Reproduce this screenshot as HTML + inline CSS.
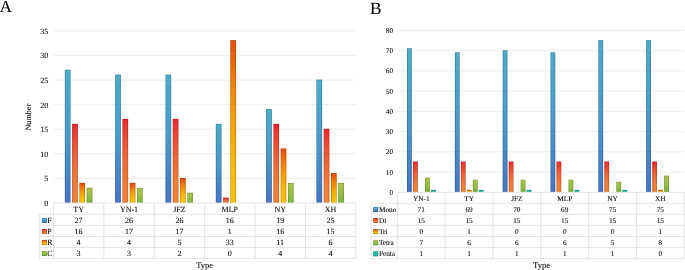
<!DOCTYPE html>
<html><head><meta charset="utf-8"><title>Figure</title>
<style>html,body{margin:0;padding:0;background:#fff}body{width:685px;height:270px;overflow:hidden}</style>
</head><body>
<svg width="685" height="270" viewBox="0 0 685 270" style="display:block">
<defs>
<linearGradient id="gF" x1="0" y1="0" x2="0" y2="1"><stop offset="0" stop-color="#4BADCA"/><stop offset="0.5" stop-color="#499AC9"/><stop offset="1" stop-color="#4474C6"/></linearGradient>
<linearGradient id="sF" x1="0" y1="0" x2="0" y2="1"><stop offset="0" stop-color="#39839A"/><stop offset="0.5" stop-color="#377599"/><stop offset="1" stop-color="#345896"/></linearGradient>
<linearGradient id="gP" x1="0" y1="0" x2="0" y2="1"><stop offset="0" stop-color="#EB2A30"/><stop offset="0.25" stop-color="#ED4F33"/><stop offset="0.5" stop-color="#EF6935"/><stop offset="0.75" stop-color="#F07C37"/><stop offset="1" stop-color="#F08237"/></linearGradient>
<linearGradient id="sP" x1="0" y1="0" x2="0" y2="1"><stop offset="0" stop-color="#B32024"/><stop offset="0.25" stop-color="#B43C27"/><stop offset="0.5" stop-color="#B65028"/><stop offset="0.75" stop-color="#B65E2A"/><stop offset="1" stop-color="#B6632A"/></linearGradient>
<linearGradient id="gR" x1="0" y1="0" x2="0" y2="1"><stop offset="0" stop-color="#E84E08"/><stop offset="0.25" stop-color="#F07E05"/><stop offset="0.5" stop-color="#F6A002"/><stop offset="0.75" stop-color="#FAB801"/><stop offset="1" stop-color="#FBC000"/></linearGradient>
<linearGradient id="sR" x1="0" y1="0" x2="0" y2="1"><stop offset="0" stop-color="#B03B06"/><stop offset="0.25" stop-color="#B66004"/><stop offset="0.5" stop-color="#BB7A02"/><stop offset="0.75" stop-color="#BE8C01"/><stop offset="1" stop-color="#BF9200"/></linearGradient>
<linearGradient id="gC" x1="0" y1="0" x2="0" y2="1"><stop offset="0" stop-color="#ACC548"/><stop offset="0.5" stop-color="#98BF43"/><stop offset="1" stop-color="#7AB63C"/></linearGradient>
<linearGradient id="sC" x1="0" y1="0" x2="0" y2="1"><stop offset="0" stop-color="#839637"/><stop offset="0.5" stop-color="#749133"/><stop offset="1" stop-color="#5D8A2E"/></linearGradient>
<linearGradient id="gE" x1="0" y1="0" x2="0" y2="1"><stop offset="0" stop-color="#1EBEA0"/><stop offset="0.5" stop-color="#23BCA5"/><stop offset="1" stop-color="#28B9AA"/></linearGradient>
<linearGradient id="sE" x1="0" y1="0" x2="0" y2="1"><stop offset="0" stop-color="#17907A"/><stop offset="0.5" stop-color="#1B8F7D"/><stop offset="1" stop-color="#1E8D81"/></linearGradient>
<filter id="bl" x="0" y="0" width="685" height="270" filterUnits="userSpaceOnUse"><feGaussianBlur stdDeviation="0.35"/></filter>
<filter id="bt" x="0" y="0" width="685" height="270" filterUnits="userSpaceOnUse"><feGaussianBlur stdDeviation="0.25"/></filter>
</defs>
<rect width="685" height="270" fill="#fff"/>
<g filter="url(#bl)">
<line x1="53.90" y1="178.40" x2="355.80" y2="178.40" stroke="#EAEAEA" stroke-width="0.8"/>
<line x1="53.90" y1="153.80" x2="355.80" y2="153.80" stroke="#EAEAEA" stroke-width="0.8"/>
<line x1="53.90" y1="129.20" x2="355.80" y2="129.20" stroke="#EAEAEA" stroke-width="0.8"/>
<line x1="53.90" y1="104.60" x2="355.80" y2="104.60" stroke="#EAEAEA" stroke-width="0.8"/>
<line x1="53.90" y1="80.00" x2="355.80" y2="80.00" stroke="#EAEAEA" stroke-width="0.8"/>
<line x1="53.90" y1="55.40" x2="355.80" y2="55.40" stroke="#EAEAEA" stroke-width="0.8"/>
<line x1="53.90" y1="30.80" x2="355.80" y2="30.80" stroke="#EAEAEA" stroke-width="0.8"/>
<rect x="64.84" y="69.71" width="5.70" height="133.14" fill="url(#sF)"/>
<rect x="65.55" y="70.41" width="4.30" height="132.44" fill="url(#gF)"/>
<rect x="72.11" y="123.83" width="5.70" height="79.02" fill="url(#sP)"/>
<rect x="72.81" y="124.53" width="4.30" height="78.32" fill="url(#gP)"/>
<rect x="79.38" y="182.87" width="5.70" height="19.98" fill="url(#sR)"/>
<rect x="80.08" y="183.57" width="4.30" height="19.28" fill="url(#gR)"/>
<rect x="86.66" y="187.79" width="5.70" height="15.06" fill="url(#sC)"/>
<rect x="87.36" y="188.49" width="4.30" height="14.36" fill="url(#gC)"/>
<rect x="115.16" y="74.63" width="5.70" height="128.22" fill="url(#sF)"/>
<rect x="115.86" y="75.33" width="4.30" height="127.52" fill="url(#gF)"/>
<rect x="122.43" y="118.91" width="5.70" height="83.94" fill="url(#sP)"/>
<rect x="123.13" y="119.61" width="4.30" height="83.24" fill="url(#gP)"/>
<rect x="129.70" y="182.87" width="5.70" height="19.98" fill="url(#sR)"/>
<rect x="130.40" y="183.57" width="4.30" height="19.28" fill="url(#gR)"/>
<rect x="136.97" y="187.79" width="5.70" height="15.06" fill="url(#sC)"/>
<rect x="137.67" y="188.49" width="4.30" height="14.36" fill="url(#gC)"/>
<rect x="165.48" y="74.63" width="5.70" height="128.22" fill="url(#sF)"/>
<rect x="166.18" y="75.33" width="4.30" height="127.52" fill="url(#gF)"/>
<rect x="172.75" y="118.91" width="5.70" height="83.94" fill="url(#sP)"/>
<rect x="173.45" y="119.61" width="4.30" height="83.24" fill="url(#gP)"/>
<rect x="180.02" y="177.95" width="5.70" height="24.90" fill="url(#sR)"/>
<rect x="180.72" y="178.65" width="4.30" height="24.20" fill="url(#gR)"/>
<rect x="187.29" y="192.71" width="5.70" height="10.14" fill="url(#sC)"/>
<rect x="187.99" y="193.41" width="4.30" height="9.44" fill="url(#gC)"/>
<rect x="215.81" y="123.83" width="5.70" height="79.02" fill="url(#sF)"/>
<rect x="216.50" y="124.53" width="4.30" height="78.32" fill="url(#gF)"/>
<rect x="223.08" y="197.63" width="5.70" height="5.22" fill="url(#sP)"/>
<rect x="223.78" y="198.33" width="4.30" height="4.52" fill="url(#gP)"/>
<rect x="230.34" y="40.19" width="5.70" height="162.66" fill="url(#sR)"/>
<rect x="231.04" y="40.89" width="4.30" height="161.96" fill="url(#gR)"/>
<rect x="266.12" y="109.07" width="5.70" height="93.78" fill="url(#sF)"/>
<rect x="266.82" y="109.77" width="4.30" height="93.08" fill="url(#gF)"/>
<rect x="273.39" y="123.83" width="5.70" height="79.02" fill="url(#sP)"/>
<rect x="274.09" y="124.53" width="4.30" height="78.32" fill="url(#gP)"/>
<rect x="280.67" y="148.43" width="5.70" height="54.42" fill="url(#sR)"/>
<rect x="281.37" y="149.13" width="4.30" height="53.72" fill="url(#gR)"/>
<rect x="287.94" y="182.87" width="5.70" height="19.98" fill="url(#sC)"/>
<rect x="288.63" y="183.57" width="4.30" height="19.28" fill="url(#gC)"/>
<rect x="316.44" y="79.55" width="5.70" height="123.30" fill="url(#sF)"/>
<rect x="317.14" y="80.25" width="4.30" height="122.60" fill="url(#gF)"/>
<rect x="323.71" y="128.75" width="5.70" height="74.10" fill="url(#sP)"/>
<rect x="324.41" y="129.45" width="4.30" height="73.40" fill="url(#gP)"/>
<rect x="330.99" y="173.03" width="5.70" height="29.82" fill="url(#sR)"/>
<rect x="331.69" y="173.73" width="4.30" height="29.12" fill="url(#gR)"/>
<rect x="338.25" y="182.87" width="5.70" height="19.98" fill="url(#sC)"/>
<rect x="338.95" y="183.57" width="4.30" height="19.28" fill="url(#gC)"/>
<line x1="53.40" y1="203.00" x2="355.80" y2="203.00" stroke="#E1E1E1" stroke-width="0.9"/>
<line x1="39.60" y1="214.30" x2="355.80" y2="214.30" stroke="#E1E1E1" stroke-width="0.9"/>
<line x1="39.60" y1="225.40" x2="355.80" y2="225.40" stroke="#E1E1E1" stroke-width="0.9"/>
<line x1="39.60" y1="236.50" x2="355.80" y2="236.50" stroke="#E1E1E1" stroke-width="0.9"/>
<line x1="39.60" y1="247.50" x2="355.80" y2="247.50" stroke="#E1E1E1" stroke-width="0.9"/>
<line x1="39.60" y1="258.40" x2="355.80" y2="258.40" stroke="#E1E1E1" stroke-width="0.9"/>
<line x1="39.60" y1="214.30" x2="39.60" y2="258.40" stroke="#E1E1E1" stroke-width="0.9"/>
<line x1="53.40" y1="203.00" x2="53.40" y2="258.40" stroke="#E1E1E1" stroke-width="0.9"/>
<line x1="103.80" y1="203.00" x2="103.80" y2="258.40" stroke="#E1E1E1" stroke-width="0.9"/>
<line x1="154.20" y1="203.00" x2="154.20" y2="258.40" stroke="#E1E1E1" stroke-width="0.9"/>
<line x1="204.60" y1="203.00" x2="204.60" y2="258.40" stroke="#E1E1E1" stroke-width="0.9"/>
<line x1="255.00" y1="203.00" x2="255.00" y2="258.40" stroke="#E1E1E1" stroke-width="0.9"/>
<line x1="305.40" y1="203.00" x2="305.40" y2="258.40" stroke="#E1E1E1" stroke-width="0.9"/>
<line x1="355.80" y1="203.00" x2="355.80" y2="258.40" stroke="#E1E1E1" stroke-width="0.9"/>
<rect x="41.90" y="217.95" width="5" height="5" fill="url(#sF)"/>
<rect x="42.60" y="218.65" width="3.6" height="3.6" fill="url(#gF)"/>
<rect x="41.90" y="229.05" width="5" height="5" fill="url(#sP)"/>
<rect x="42.60" y="229.75" width="3.6" height="3.6" fill="url(#gP)"/>
<rect x="41.90" y="240.10" width="5" height="5" fill="url(#sR)"/>
<rect x="42.60" y="240.80" width="3.6" height="3.6" fill="url(#gR)"/>
<rect x="41.90" y="251.05" width="5" height="5" fill="url(#sC)"/>
<rect x="42.60" y="251.75" width="3.6" height="3.6" fill="url(#gC)"/>
<line x1="397.80" y1="172.08" x2="684.28" y2="172.08" stroke="#EAEAEA" stroke-width="0.8"/>
<line x1="397.80" y1="151.85" x2="684.28" y2="151.85" stroke="#EAEAEA" stroke-width="0.8"/>
<line x1="397.80" y1="131.62" x2="684.28" y2="131.62" stroke="#EAEAEA" stroke-width="0.8"/>
<line x1="397.80" y1="111.40" x2="684.28" y2="111.40" stroke="#EAEAEA" stroke-width="0.8"/>
<line x1="397.80" y1="91.18" x2="684.28" y2="91.18" stroke="#EAEAEA" stroke-width="0.8"/>
<line x1="397.80" y1="70.95" x2="684.28" y2="70.95" stroke="#EAEAEA" stroke-width="0.8"/>
<line x1="397.80" y1="50.73" x2="684.28" y2="50.73" stroke="#EAEAEA" stroke-width="0.8"/>
<line x1="397.80" y1="30.50" x2="684.28" y2="30.50" stroke="#EAEAEA" stroke-width="0.8"/>
<rect x="407.01" y="48.25" width="4.80" height="143.60" fill="url(#sF)"/>
<rect x="407.71" y="48.95" width="3.40" height="142.90" fill="url(#gF)"/>
<rect x="413.01" y="161.51" width="4.80" height="30.34" fill="url(#sP)"/>
<rect x="413.71" y="162.21" width="3.40" height="29.64" fill="url(#gP)"/>
<rect x="425.01" y="177.69" width="4.80" height="14.16" fill="url(#sC)"/>
<rect x="425.71" y="178.39" width="3.40" height="13.46" fill="url(#gC)"/>
<rect x="431.01" y="189.83" width="4.80" height="2.02" fill="url(#sE)"/>
<rect x="431.71" y="190.53" width="3.40" height="1.32" fill="url(#gE)"/>
<rect x="454.84" y="52.30" width="4.80" height="139.55" fill="url(#sF)"/>
<rect x="455.54" y="53.00" width="3.40" height="138.85" fill="url(#gF)"/>
<rect x="460.84" y="161.51" width="4.80" height="30.34" fill="url(#sP)"/>
<rect x="461.54" y="162.21" width="3.40" height="29.64" fill="url(#gP)"/>
<rect x="466.84" y="189.83" width="4.80" height="2.02" fill="url(#sR)"/>
<rect x="467.54" y="190.53" width="3.40" height="1.32" fill="url(#gR)"/>
<rect x="472.84" y="179.72" width="4.80" height="12.13" fill="url(#sC)"/>
<rect x="473.54" y="180.41" width="3.40" height="11.44" fill="url(#gC)"/>
<rect x="478.84" y="189.83" width="4.80" height="2.02" fill="url(#sE)"/>
<rect x="479.54" y="190.53" width="3.40" height="1.32" fill="url(#gE)"/>
<rect x="502.68" y="50.28" width="4.80" height="141.57" fill="url(#sF)"/>
<rect x="503.38" y="50.98" width="3.40" height="140.88" fill="url(#gF)"/>
<rect x="508.68" y="161.51" width="4.80" height="30.34" fill="url(#sP)"/>
<rect x="509.38" y="162.21" width="3.40" height="29.64" fill="url(#gP)"/>
<rect x="520.67" y="179.72" width="4.80" height="12.13" fill="url(#sC)"/>
<rect x="521.38" y="180.41" width="3.40" height="11.44" fill="url(#gC)"/>
<rect x="526.67" y="189.83" width="4.80" height="2.02" fill="url(#sE)"/>
<rect x="527.38" y="190.53" width="3.40" height="1.32" fill="url(#gE)"/>
<rect x="550.50" y="52.30" width="4.80" height="139.55" fill="url(#sF)"/>
<rect x="551.21" y="53.00" width="3.40" height="138.85" fill="url(#gF)"/>
<rect x="556.50" y="161.51" width="4.80" height="30.34" fill="url(#sP)"/>
<rect x="557.21" y="162.21" width="3.40" height="29.64" fill="url(#gP)"/>
<rect x="568.50" y="179.72" width="4.80" height="12.13" fill="url(#sC)"/>
<rect x="569.21" y="180.41" width="3.40" height="11.44" fill="url(#gC)"/>
<rect x="574.50" y="189.83" width="4.80" height="2.02" fill="url(#sE)"/>
<rect x="575.21" y="190.53" width="3.40" height="1.32" fill="url(#gE)"/>
<rect x="598.34" y="40.16" width="4.80" height="151.69" fill="url(#sF)"/>
<rect x="599.04" y="40.86" width="3.40" height="150.99" fill="url(#gF)"/>
<rect x="604.34" y="161.51" width="4.80" height="30.34" fill="url(#sP)"/>
<rect x="605.04" y="162.21" width="3.40" height="29.64" fill="url(#gP)"/>
<rect x="616.34" y="181.74" width="4.80" height="10.11" fill="url(#sC)"/>
<rect x="617.04" y="182.44" width="3.40" height="9.41" fill="url(#gC)"/>
<rect x="622.34" y="189.83" width="4.80" height="2.02" fill="url(#sE)"/>
<rect x="623.04" y="190.53" width="3.40" height="1.32" fill="url(#gE)"/>
<rect x="646.17" y="40.16" width="4.80" height="151.69" fill="url(#sF)"/>
<rect x="646.87" y="40.86" width="3.40" height="150.99" fill="url(#gF)"/>
<rect x="652.17" y="161.51" width="4.80" height="30.34" fill="url(#sP)"/>
<rect x="652.87" y="162.21" width="3.40" height="29.64" fill="url(#gP)"/>
<rect x="658.17" y="189.83" width="4.80" height="2.02" fill="url(#sR)"/>
<rect x="658.87" y="190.53" width="3.40" height="1.32" fill="url(#gR)"/>
<rect x="664.17" y="175.67" width="4.80" height="16.18" fill="url(#sC)"/>
<rect x="664.87" y="176.37" width="3.40" height="15.48" fill="url(#gC)"/>
<line x1="397.30" y1="192.40" x2="684.28" y2="192.40" stroke="#E1E1E1" stroke-width="0.9"/>
<line x1="371.00" y1="203.30" x2="684.28" y2="203.30" stroke="#E1E1E1" stroke-width="0.9"/>
<line x1="371.00" y1="214.30" x2="684.28" y2="214.30" stroke="#E1E1E1" stroke-width="0.9"/>
<line x1="371.00" y1="225.30" x2="684.28" y2="225.30" stroke="#E1E1E1" stroke-width="0.9"/>
<line x1="371.00" y1="236.50" x2="684.28" y2="236.50" stroke="#E1E1E1" stroke-width="0.9"/>
<line x1="371.00" y1="247.60" x2="684.28" y2="247.60" stroke="#E1E1E1" stroke-width="0.9"/>
<line x1="371.00" y1="258.70" x2="684.28" y2="258.70" stroke="#E1E1E1" stroke-width="0.9"/>
<line x1="371.00" y1="203.30" x2="371.00" y2="258.70" stroke="#E1E1E1" stroke-width="0.9"/>
<line x1="397.30" y1="192.40" x2="397.30" y2="258.70" stroke="#E1E1E1" stroke-width="0.9"/>
<line x1="445.13" y1="192.40" x2="445.13" y2="258.70" stroke="#E1E1E1" stroke-width="0.9"/>
<line x1="492.96" y1="192.40" x2="492.96" y2="258.70" stroke="#E1E1E1" stroke-width="0.9"/>
<line x1="540.79" y1="192.40" x2="540.79" y2="258.70" stroke="#E1E1E1" stroke-width="0.9"/>
<line x1="588.62" y1="192.40" x2="588.62" y2="258.70" stroke="#E1E1E1" stroke-width="0.9"/>
<line x1="636.45" y1="192.40" x2="636.45" y2="258.70" stroke="#E1E1E1" stroke-width="0.9"/>
<line x1="684.28" y1="192.40" x2="684.28" y2="258.70" stroke="#E1E1E1" stroke-width="0.9"/>
<rect x="373.20" y="207.00" width="5" height="5" fill="url(#sF)"/>
<rect x="373.90" y="207.70" width="3.6" height="3.6" fill="url(#gF)"/>
<rect x="373.20" y="218.00" width="5" height="5" fill="url(#sP)"/>
<rect x="373.90" y="218.70" width="3.6" height="3.6" fill="url(#gP)"/>
<rect x="373.20" y="229.10" width="5" height="5" fill="url(#sR)"/>
<rect x="373.90" y="229.80" width="3.6" height="3.6" fill="url(#gR)"/>
<rect x="373.20" y="240.25" width="5" height="5" fill="url(#sC)"/>
<rect x="373.90" y="240.95" width="3.6" height="3.6" fill="url(#gC)"/>
<rect x="373.20" y="251.35" width="5" height="5" fill="url(#sE)"/>
<rect x="373.90" y="252.05" width="3.6" height="3.6" fill="url(#gE)"/>
</g>
<g font-family='"Liberation Serif", "Times New Roman", serif' fill="#000" stroke="#000" stroke-width="0.08" opacity="0.99" text-rendering="geometricPrecision">
<text x="-0.3" y="11.6" font-size="16.8">A</text>
<text x="369.9" y="13.6" font-size="17.3">B</text>
<text x="48.20" y="205.94" font-size="8" text-anchor="end">0</text>
<text x="48.20" y="181.34" font-size="8" text-anchor="end">5</text>
<text x="48.20" y="156.74" font-size="8" text-anchor="end">10</text>
<text x="48.20" y="132.14" font-size="8" text-anchor="end">15</text>
<text x="48.20" y="107.54" font-size="8" text-anchor="end">20</text>
<text x="48.20" y="82.94" font-size="8" text-anchor="end">25</text>
<text x="48.20" y="58.34" font-size="8" text-anchor="end">30</text>
<text x="48.20" y="33.74" font-size="8" text-anchor="end">35</text>
<text x="78.60" y="211.89" font-size="8" text-anchor="middle">TY</text>
<text x="129.00" y="211.89" font-size="8" text-anchor="middle">YN-1</text>
<text x="179.40" y="211.89" font-size="8" text-anchor="middle">JFZ</text>
<text x="229.80" y="211.89" font-size="8" text-anchor="middle">MLP</text>
<text x="280.20" y="211.89" font-size="8" text-anchor="middle">NY</text>
<text x="330.60" y="211.89" font-size="8" text-anchor="middle">XH</text>
<text x="47.20" y="223.09" font-size="8">F</text>
<text x="78.60" y="223.09" font-size="8" text-anchor="middle">27</text>
<text x="129.00" y="223.09" font-size="8" text-anchor="middle">26</text>
<text x="179.40" y="223.09" font-size="8" text-anchor="middle">26</text>
<text x="229.80" y="223.09" font-size="8" text-anchor="middle">16</text>
<text x="280.20" y="223.09" font-size="8" text-anchor="middle">19</text>
<text x="330.60" y="223.09" font-size="8" text-anchor="middle">25</text>
<text x="47.20" y="234.19" font-size="8">P</text>
<text x="78.60" y="234.19" font-size="8" text-anchor="middle">16</text>
<text x="129.00" y="234.19" font-size="8" text-anchor="middle">17</text>
<text x="179.40" y="234.19" font-size="8" text-anchor="middle">17</text>
<text x="229.80" y="234.19" font-size="8" text-anchor="middle">1</text>
<text x="280.20" y="234.19" font-size="8" text-anchor="middle">16</text>
<text x="330.60" y="234.19" font-size="8" text-anchor="middle">15</text>
<text x="47.20" y="245.24" font-size="8">R</text>
<text x="78.60" y="245.24" font-size="8" text-anchor="middle">4</text>
<text x="129.00" y="245.24" font-size="8" text-anchor="middle">4</text>
<text x="179.40" y="245.24" font-size="8" text-anchor="middle">5</text>
<text x="229.80" y="245.24" font-size="8" text-anchor="middle">33</text>
<text x="280.20" y="245.24" font-size="8" text-anchor="middle">11</text>
<text x="330.60" y="245.24" font-size="8" text-anchor="middle">6</text>
<text x="47.20" y="256.19" font-size="8">C</text>
<text x="78.60" y="256.19" font-size="8" text-anchor="middle">3</text>
<text x="129.00" y="256.19" font-size="8" text-anchor="middle">3</text>
<text x="179.40" y="256.19" font-size="8" text-anchor="middle">2</text>
<text x="229.80" y="256.19" font-size="8" text-anchor="middle">0</text>
<text x="280.20" y="256.19" font-size="8" text-anchor="middle">4</text>
<text x="330.60" y="256.19" font-size="8" text-anchor="middle">4</text>
<text x="204.50" y="267.60" font-size="8.45" text-anchor="middle">Type</text>
<text transform="translate(31.1,117.2) rotate(-90)" font-size="8.2" text-anchor="middle">Number</text>
<text x="393.10" y="194.81" font-size="7.3" text-anchor="end">0</text>
<text x="393.10" y="174.58" font-size="7.3" text-anchor="end">10</text>
<text x="393.10" y="154.36" font-size="7.3" text-anchor="end">20</text>
<text x="393.10" y="134.13" font-size="7.3" text-anchor="end">30</text>
<text x="393.10" y="113.91" font-size="7.3" text-anchor="end">40</text>
<text x="393.10" y="93.68" font-size="7.3" text-anchor="end">50</text>
<text x="393.10" y="73.46" font-size="7.3" text-anchor="end">60</text>
<text x="393.10" y="53.23" font-size="7.3" text-anchor="end">70</text>
<text x="393.10" y="33.01" font-size="7.3" text-anchor="end">80</text>
<text x="421.22" y="200.96" font-size="7.3" text-anchor="middle">YN-1</text>
<text x="469.05" y="200.96" font-size="7.3" text-anchor="middle">TY</text>
<text x="516.88" y="200.96" font-size="7.3" text-anchor="middle">JFZ</text>
<text x="564.71" y="200.96" font-size="7.3" text-anchor="middle">MLP</text>
<text x="612.53" y="200.96" font-size="7.3" text-anchor="middle">NY</text>
<text x="660.37" y="200.96" font-size="7.3" text-anchor="middle">XH</text>
<text x="378.90" y="211.91" font-size="7.3">Mono</text>
<text x="421.22" y="211.91" font-size="7.3" text-anchor="middle">71</text>
<text x="469.05" y="211.91" font-size="7.3" text-anchor="middle">69</text>
<text x="516.88" y="211.91" font-size="7.3" text-anchor="middle">70</text>
<text x="564.71" y="211.91" font-size="7.3" text-anchor="middle">69</text>
<text x="612.53" y="211.91" font-size="7.3" text-anchor="middle">75</text>
<text x="660.37" y="211.91" font-size="7.3" text-anchor="middle">75</text>
<text x="378.90" y="222.91" font-size="7.3">Di</text>
<text x="421.22" y="222.91" font-size="7.3" text-anchor="middle">15</text>
<text x="469.05" y="222.91" font-size="7.3" text-anchor="middle">15</text>
<text x="516.88" y="222.91" font-size="7.3" text-anchor="middle">15</text>
<text x="564.71" y="222.91" font-size="7.3" text-anchor="middle">15</text>
<text x="612.53" y="222.91" font-size="7.3" text-anchor="middle">15</text>
<text x="660.37" y="222.91" font-size="7.3" text-anchor="middle">15</text>
<text x="378.90" y="234.01" font-size="7.3">Tri</text>
<text x="421.22" y="234.01" font-size="7.3" text-anchor="middle">0</text>
<text x="469.05" y="234.01" font-size="7.3" text-anchor="middle">1</text>
<text x="516.88" y="234.01" font-size="7.3" text-anchor="middle">0</text>
<text x="564.71" y="234.01" font-size="7.3" text-anchor="middle">0</text>
<text x="612.53" y="234.01" font-size="7.3" text-anchor="middle">0</text>
<text x="660.37" y="234.01" font-size="7.3" text-anchor="middle">1</text>
<text x="378.90" y="245.16" font-size="7.3">Tetra</text>
<text x="421.22" y="245.16" font-size="7.3" text-anchor="middle">7</text>
<text x="469.05" y="245.16" font-size="7.3" text-anchor="middle">6</text>
<text x="516.88" y="245.16" font-size="7.3" text-anchor="middle">6</text>
<text x="564.71" y="245.16" font-size="7.3" text-anchor="middle">6</text>
<text x="612.53" y="245.16" font-size="7.3" text-anchor="middle">5</text>
<text x="660.37" y="245.16" font-size="7.3" text-anchor="middle">8</text>
<text x="378.90" y="256.26" font-size="7.3">Penta</text>
<text x="421.22" y="256.26" font-size="7.3" text-anchor="middle">1</text>
<text x="469.05" y="256.26" font-size="7.3" text-anchor="middle">1</text>
<text x="516.88" y="256.26" font-size="7.3" text-anchor="middle">1</text>
<text x="564.71" y="256.26" font-size="7.3" text-anchor="middle">1</text>
<text x="612.53" y="256.26" font-size="7.3" text-anchor="middle">1</text>
<text x="660.37" y="256.26" font-size="7.3" text-anchor="middle">0</text>
<text x="541.60" y="267.80" font-size="8.7" text-anchor="middle">Type</text>
</g>
</svg>
</body></html>
